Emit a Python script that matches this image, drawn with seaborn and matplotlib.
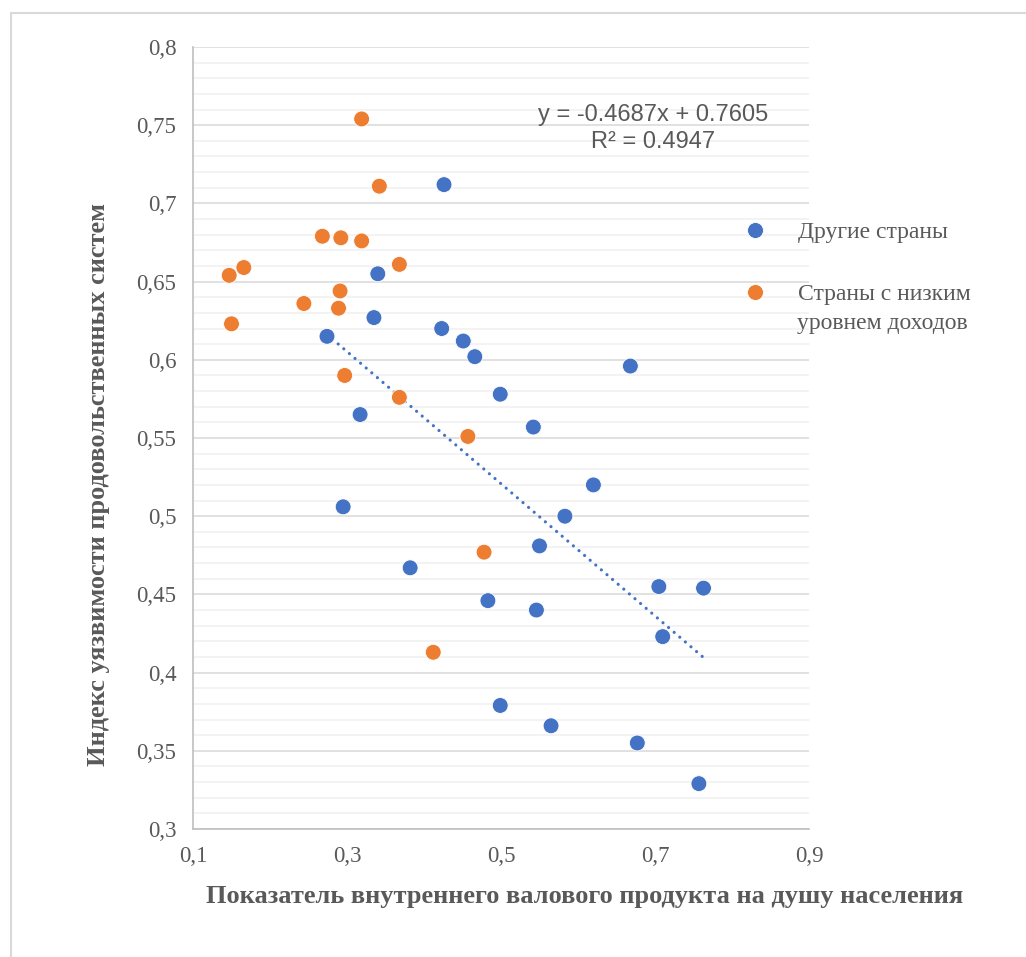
import numpy as np
import pandas as pd
import matplotlib
matplotlib.use("Agg")
import matplotlib.pyplot as plt
from matplotlib.lines import Line2D
from matplotlib.ticker import MultipleLocator, FixedLocator
import seaborn as sns

# blue series: "Другие страны"
other_x = [0.426, 0.340, 0.335, 0.423, 0.274, 0.451, 0.466, 0.668, 0.499, 0.317,
           0.542, 0.620, 0.295, 0.583, 0.550, 0.382, 0.705, 0.763, 0.483, 0.546,
           0.710, 0.499, 0.565, 0.677, 0.757]
other_y = [0.712, 0.655, 0.627, 0.620, 0.615, 0.612, 0.602, 0.596, 0.578, 0.565,
           0.557, 0.520, 0.506, 0.500, 0.481, 0.467, 0.455, 0.454, 0.446, 0.440,
           0.423, 0.379, 0.366, 0.355, 0.329]

# orange series: "Страны с низким уровнем доходов"
low_x = [0.319, 0.342, 0.268, 0.292, 0.319, 0.368, 0.147, 0.166, 0.291, 0.244,
         0.289, 0.150, 0.297, 0.368, 0.457, 0.478, 0.412]
low_y = [0.754, 0.711, 0.679, 0.678, 0.676, 0.661, 0.654, 0.659, 0.644, 0.636,
         0.633, 0.623, 0.590, 0.576, 0.551, 0.477, 0.413]

group_names = ["Другие страны", "Страны с низким уровнем доходов"]
colors = ["#4472C4", "#ED7D31"]

x_ticks = [0.1, 0.3, 0.5, 0.7, 0.9]
y_ticks = [0.3, 0.35, 0.4, 0.45, 0.5, 0.55, 0.6, 0.65, 0.7, 0.75, 0.8]

eq_text = "y = -0.4687x + 0.7605\nR² = 0.4947"
x_title = "Показатель внутреннего валового продукта на душу населения"
y_title = "Индекс уязвимости продовольственных систем"

df = pd.DataFrame({
    "x": other_x + low_x,
    "y": other_y + low_y,
    "group": [group_names[0]] * len(other_x) + [group_names[1]] * len(low_x),
})

sns.set_style("white")
plt.rcParams["font.family"] = ["Liberation Serif", "DejaVu Serif"]

W, H = 1026, 957
fig = plt.figure(figsize=(W / 100, H / 100), dpi=100)
ax = fig.add_axes([193 / W, 1 - 829 / H, (809 - 193) / W, (829 - 47) / H])

grey = "#595959"

# trend line for the blue series
sns.regplot(data=df[df["group"] == group_names[0]], x="x", y="y", ax=ax,
            scatter=False, ci=None, truncate=True,
            line_kws=dict(color=colors[0], lw=2.3, linestyle=(0, (0.01, 2.3)),
                          dash_capstyle="round", zorder=2))

sns.scatterplot(data=df, x="x", y="y", hue="group", hue_order=group_names,
                palette=colors, s=130, edgecolor="white", linewidth=0.6,
                ax=ax, zorder=3, legend=False)

ax.set_xlim(0.1, 0.9)
ax.set_ylim(0.3, 0.8)
ax.xaxis.set_major_locator(FixedLocator(x_ticks))
ax.yaxis.set_major_locator(FixedLocator(y_ticks))
ax.yaxis.set_minor_locator(MultipleLocator(0.01))
ax.set_xticklabels([f"{v:g}".replace(".", ",") for v in x_ticks])
ax.set_yticklabels([f"{v:g}".replace(".", ",") for v in y_ticks])
ax.grid(False)
ax.yaxis.grid(True, which="major", color="#D9D9D9", lw=1.1, zorder=0)
ax.yaxis.grid(True, which="minor", color="#F0F0F0", lw=1.1, zorder=0)
ax.set_axisbelow(True)
ax.tick_params(axis="both", which="major", direction="out", length=6, width=1,
               color="#BFBFBF", labelsize=16.5, labelcolor=grey, pad=6)
ax.tick_params(axis="y", which="minor", length=0)
for side in ["top", "right"]:
    ax.spines[side].set_visible(False)
for side in ["left", "bottom"]:
    ax.spines[side].set_color("#BFBFBF")
    ax.spines[side].set_linewidth(1.2)
ax.set_xlabel("")
ax.set_ylabel("")

ax.text(0.697, 0.748, eq_text, ha="center", va="center", fontsize=17,
        color=grey, family=["Liberation Sans", "DejaVu Sans"], linespacing=1.3)

fig.text(585 / W, 1 - 896 / H, x_title, ha="center", va="center",
         fontsize=19, fontweight="bold", color=grey)
fig.text(99 / W, 1 - 485 / H, y_title, ha="center", va="center", rotation=90,
         fontsize=19, fontweight="bold", color=grey)

# legend: marker beside the first line of each label, as in the source
first_lines = [group_names[0], "Страны с низким"]
handles = [Line2D([], [], marker="o", ls="", markersize=11.5, markerfacecolor=c,
                  markeredgecolor="white", markeredgewidth=0.6) for c in colors]
fig.legend(handles, first_lines, loc="upper left",
           bbox_to_anchor=(734 / W, 1 - 212 / H), frameon=False, fontsize=17,
           labelcolor=grey, handletextpad=1.3, labelspacing=1.73,
           handlelength=1.0, borderaxespad=0)
fig.text(797 / W, 1 - 324 / H, "уровнем доходов", ha="left", va="center",
         fontsize=17, color=grey)

# chart area border
fig.add_artist(Line2D([11 / W, 1], [1 - 13 / H, 1 - 13 / H], color="#D9D9D9", lw=1.5))
fig.add_artist(Line2D([11 / W, 11 / W], [0, 1 - 13 / H], color="#D9D9D9", lw=1.5))

fig.savefig("out.png", dpi=100, facecolor="white")
